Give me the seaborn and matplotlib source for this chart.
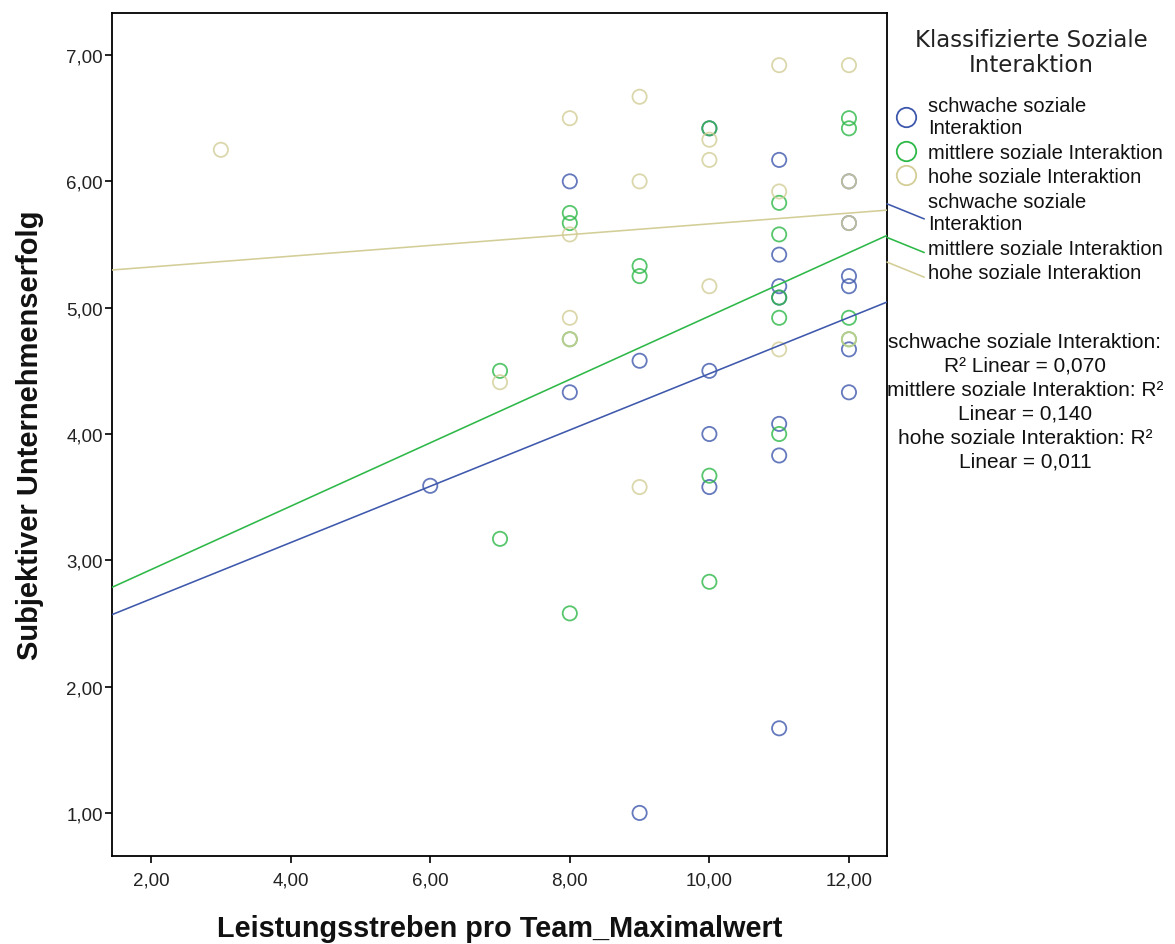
import numpy as np
import pandas as pd
import matplotlib
matplotlib.use("Agg")
import matplotlib.pyplot as plt
from matplotlib.lines import Line2D
from matplotlib.legend_handler import HandlerBase
from matplotlib.ticker import FixedLocator, FuncFormatter
import seaborn as sns

# Leistungsstreben (x) und Unternehmenserfolg (y) je Gruppe der sozialen Interaktion
schwach_x = [6, 8, 8, 9, 9, 10, 10, 10, 10, 11, 11, 11, 11, 11, 11, 11, 12, 12, 12, 12, 12, 12]
schwach_y = [3.59, 6.00, 4.33, 4.58, 1.00, 6.42, 4.50, 4.00, 3.58, 6.17, 5.42, 5.17, 5.08, 4.08,
             3.83, 1.67, 6.00, 5.67, 5.25, 5.17, 4.67, 4.33]

mittel_x = [7, 7, 8, 8, 8, 8, 9, 9, 10, 10, 10, 11, 11, 11, 11, 11, 12, 12, 12, 12]
mittel_y = [4.50, 3.17, 5.75, 5.67, 4.75, 2.58, 5.33, 5.25, 6.42, 3.67, 2.83, 5.83, 5.58, 5.08,
            4.92, 4.00, 6.50, 6.42, 4.92, 4.75]

hoch_x = [3, 7, 8, 8, 8, 8, 9, 9, 9, 10, 10, 10, 11, 11, 11, 12, 12, 12, 12]
hoch_y = [6.25, 4.41, 6.50, 5.58, 4.92, 4.75, 6.67, 6.00, 3.58, 6.33, 6.17, 5.17, 6.92, 5.92,
          4.67, 6.92, 6.00, 5.67, 4.75]

gruppen = ["schwache soziale Interaktion", "mittlere soziale Interaktion", "hohe soziale Interaktion"]
legenden_labels = ["schwache soziale\nInteraktion", "mittlere soziale Interaktion", "hohe soziale Interaktion"]
farben = ["#3E58AC", "#2EB848", "#D3CE97"]

x_ticks = [2, 4, 6, 8, 10, 12]
y_ticks = [1, 2, 3, 4, 5, 6, 7]

df = pd.concat([
    pd.DataFrame({"Leistungsstreben": schwach_x, "Erfolg": schwach_y, "Gruppe": gruppen[0]}),
    pd.DataFrame({"Leistungsstreben": mittel_x, "Erfolg": mittel_y, "Gruppe": gruppen[1]}),
    pd.DataFrame({"Leistungsstreben": hoch_x, "Erfolg": hoch_y, "Gruppe": gruppen[2]}),
], ignore_index=True)

sns.set_style("ticks")
plt.rcParams["font.family"] = ["Liberation Sans", "DejaVu Sans"]

W, H = 1175, 945
fig = plt.figure(figsize=(W / 100, H / 100), dpi=100)
ax = fig.add_axes([112 / W, 1 - 857 / H, (887 - 112) / W, (857 - 14) / H])

XLIM = (1.44, 12.545)
YLIM = (0.659, 7.333)
ax.set_xlim(*XLIM)
ax.set_ylim(*YLIM)

def komma(v, pos=None):
    return f"{v:.2f}".replace(".", ",")

# Punkte zuerst, danach die Anpassungslinien über die volle Achsenbreite
for gruppe, farbe in zip(gruppen, farben):
    sub = df[df["Gruppe"] == gruppe]
    sns.regplot(data=sub, x="Leistungsstreben", y="Erfolg", ax=ax, ci=None, truncate=False,
                fit_reg=False,
                scatter_kws=dict(facecolors="none", color=farbe, s=105, linewidths=1.3, zorder=2))
for gruppe, farbe in zip(gruppen, farben):
    sub = df[df["Gruppe"] == gruppe]
    sns.regplot(data=sub, x="Leistungsstreben", y="Erfolg", ax=ax, ci=None, truncate=False,
                scatter=False, color=farbe, line_kws=dict(lw=1.15, zorder=3))

ax.set_xlim(*XLIM)
ax.set_ylim(*YLIM)

for side in ["left", "right", "top", "bottom"]:
    ax.spines[side].set_visible(True)
    ax.spines[side].set_color("black")
    ax.spines[side].set_linewidth(1.3)

ax.xaxis.set_major_locator(FixedLocator(x_ticks))
ax.yaxis.set_major_locator(FixedLocator(y_ticks))
ax.xaxis.set_major_formatter(FuncFormatter(komma))
ax.yaxis.set_major_formatter(FuncFormatter(komma))
ax.tick_params(axis="both", direction="out", length=5, width=1.2, color="black",
               labelsize=13.5, top=False, right=False)
ax.tick_params(axis="x", pad=6)
ax.tick_params(axis="y", pad=1.5)
for lab in ax.get_xticklabels() + ax.get_yticklabels():
    lab.set_color("#222222")

ax.set_xlabel("Leistungsstreben pro Team_Maximalwert", fontsize=20.8, fontweight="bold",
              color="#111111")
ax.set_ylabel("Subjektiver Unternehmenserfolg", fontsize=21, fontweight="bold",
              color="#111111")
ax.xaxis.set_label_coords(0.5, -(915 - 857) / (857 - 14))
ax.yaxis.set_label_coords(-(112 - 44) / (887 - 112), 0.5)


class SchraegHandler(HandlerBase):
    """Legendensymbol als schräg abfallende Linie."""
    def create_artists(self, legend, orig_handle, xdescent, ydescent, width, height,
                       fontsize, trans):
        yc = height / 2 - ydescent
        x0, x1 = -xdescent, -xdescent + width
        line = Line2D([x0, x1], [yc + 0.45 * fontsize, yc - 0.3 * fontsize],
                      color=orig_handle.get_color(), lw=orig_handle.get_linewidth())
        line.set_transform(trans)
        return [line]


# Legendentitel
fig.text(1031 / W, 1 - 29 / H, "Klassifizierte Soziale\nInteraktion", ha="center", va="top",
         family="DejaVu Sans", fontsize=16.5, linespacing=1.1, color="#222222")

marker_handles = [Line2D([], [], ls="none", marker="o", ms=14, mfc="none", mec=f, mew=1.3)
                  for f in farben]
line_handles = [Line2D([], [], color=f, lw=1.15) for f in farben]
handler_map = {h: SchraegHandler() for h in line_handles}

leg = fig.legend(marker_handles + line_handles, legenden_labels + legenden_labels,
                 loc="upper left", bbox_to_anchor=(887 / W, 1 - 97 / H),
                 frameon=False, fontsize=14.5, handlelength=1.85, handletextpad=0.2,
                 labelspacing=0.28, borderpad=0, borderaxespad=0,
                 handler_map=handler_map)
for t in leg.get_texts():
    t.set_color("#111111")


def r_quadrat(x, y):
    return np.corrcoef(x, y)[0, 1] ** 2

r2 = [r_quadrat(schwach_x, schwach_y), r_quadrat(mittel_x, mittel_y), r_quadrat(hoch_x, hoch_y)]
r2_txt = [f"{v:.3f}".replace(".", ",") for v in r2]
anmerkung = (f"schwache soziale Interaktion:\nR² Linear = {r2_txt[0]}\n"
             f"mittlere soziale Interaktion: R²\nLinear = {r2_txt[1]}\n"
             f"hohe soziale Interaktion: R²\nLinear = {r2_txt[2]}")
fig.text(1025 / W, 1 - 333 / H, anmerkung, ha="center", va="top", fontsize=15,
         linespacing=1.33, color="#111111")

fig.savefig("out.png", dpi=100, facecolor="white")
